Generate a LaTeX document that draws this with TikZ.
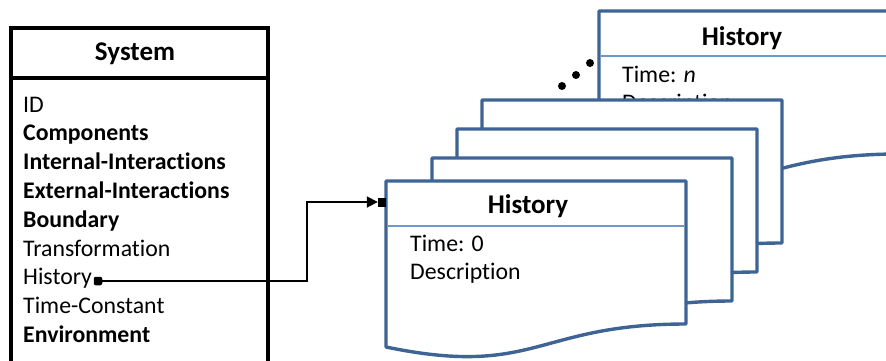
\documentclass[tikz,border=0pt]{standalone}
\usepackage{fontspec}
\setmainfont{Carlito}[Ligatures={NoCommon,NoContextual}]
\usetikzlibrary{arrows.meta}
\definecolor{docblue}{HTML}{3D6494}
\definecolor{rulblue}{HTML}{6B97D3}
\tikzset{
  sysline/.style={line width=3.3pt, draw=black, fill=white},
  docline/.style={line width=3.4pt, draw=docblue, fill=white, line join=round},
  hdrline/.style={line width=1.4pt, draw=rulblue},
  attr/.style={anchor=base west, inner sep=0pt, font=\fontsize{23.8}{28}\selectfont},
  attrb/.style={anchor=base west, inner sep=0pt, font=\fontsize{23.8}{28}\selectfont\bfseries},
  ttl/.style={anchor=base, inner sep=0pt, font=\fontsize{27}{32}\selectfont\bfseries},
  dotmark/.style={fill=black, circle, inner sep=0pt, minimum size=8pt},
  link/.style={line width=1.8pt, draw=black}
}
% one "history" document sheet: top-left corner at (#1,#2), wavy bottom edge
\newcommand\histsheet[2]{%
  \begin{scope}[shift={(#1,#2)}]
    \filldraw[docline] (0,0) -- (300,0) -- (300,143)
      .. controls (150,143) and (150,197) .. (0,166) -- cycle;
  \end{scope}}
\newcommand\histheader[2]{%
  \begin{scope}[shift={(#1,#2)}]
    \draw[hdrline] (1.7,45) -- (298.3,45);
  \end{scope}}
\begin{document}
\begin{tikzpicture}[x=1pt,y=-1pt]
  \useasboundingbox (0,0) rectangle (886,360);
  \clip (0,0) rectangle (886,360);

  % System class box
  \filldraw[sysline] (11,28) rectangle (268,372);
  \draw[sysline] (11,78) -- (268,78);
  \node[ttl] (systitle) at (135,60) {System};
  \node[attr]  (aid)   at (23,112.0) {ID};
  \node[attrb] (acomp) at (23,140.8) {Components};
  \node[attrb] (aint)  at (23,169.6) {Internal-Interactions};
  \node[attrb] (aext)  at (23,198.4) {External-Interactions};
  \node[attrb] (abnd)  at (23,227.2) {Boundary};
  \node[attr]  (atrf)  at (23,256.0) {Transformation};
  \node[attr]  (ahist) at (23,284.8) {History};
  \node[attr]  (atc)   at (23,313.6) {Time-Constant};
  \node[attrb] (aenv)  at (23,342.4) {Environment};

  % last history sheet (time n)
  \histsheet{599}{11}
  \histheader{599}{11}
  \node[ttl] (histntitle) at (742,45) {History};
  \node[attr] (histntime) at (622,82) {Time: \textit{n}};
  \node[attr] (histndesc) at (622,110) {Description};

  % ellipsis between the stack and the last sheet
  \node[dotmark] (ell1) at (562,86) {};
  \node[dotmark] (ell2) at (576,75) {};
  \node[dotmark] (ell3) at (590,63) {};

  % stacked intermediate sheets
  \histsheet{482}{100}
  \histsheet{457}{129}
  \histsheet{432}{158}

  % first history sheet (time 0)
  \histsheet{386}{181}
  \histheader{386}{181}
  \node[ttl] (hist0title) at (528,213) {History};
  \node[attr] (hist0time) at (410,251) {Time: 0};
  \node[attr] (hist0desc) at (410,279) {Description};

  % aggregation link from the History attribute to the first sheet
  \node[fill=black, rounded corners=2pt, inner sep=0pt, minimum size=8.5pt] (hdot) at (98,281) {};
  \node[fill=black, inner sep=0pt, minimum width=8pt, minimum height=9pt] (tipsq) at (382,202) {};
  \coordinate (elbow) at (307,281);
  \draw[link, -{Triangle[length=11pt,width=11pt]}] (hdot.center) -- (elbow) |- (tipsq.west);
\end{tikzpicture}
\end{document}
